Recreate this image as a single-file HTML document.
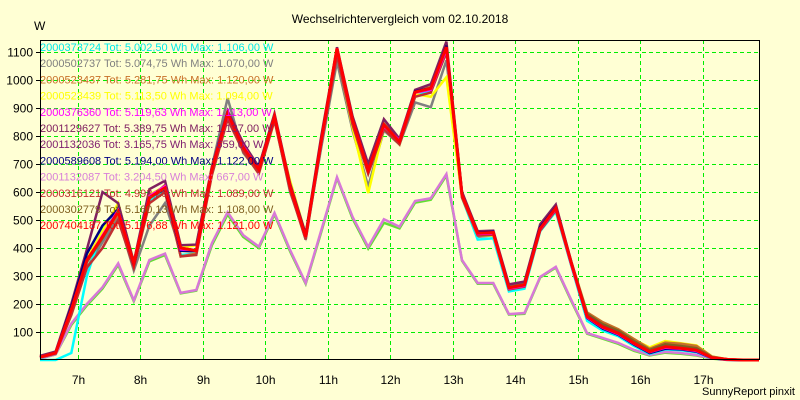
<!DOCTYPE html>
<html><head><meta charset="utf-8">
<style>
html,body{margin:0;padding:0;background:#ffffd4;}
svg{display:block;font-family:"Liberation Sans",Arial,sans-serif;}
</style></head>
<body>
<svg id="chart" width="800" height="400" viewBox="0 0 800 400" xmlns="http://www.w3.org/2000/svg">
<rect x="0" y="0" width="800" height="400" fill="#ffffd4"/>
<text x="400" y="23" text-anchor="middle" font-size="12" fill="#000">Wechselrichtervergleich vom 02.10.2018</text>
<text x="34" y="30" font-size="12" fill="#000">W</text>
<text x="795" y="395" text-anchor="end" font-size="11" fill="#000">SunnyReport pinxit</text>
<g id="grid"></g>
<g id="axes"></g>
<g id="series"></g>
<g id="legend"></g>
<rect x="40.5" y="40.5" width="719" height="319" fill="none" stroke="#000" stroke-width="1"/>
</svg>
<script>
const yTicks = [100,200,300,400,500,600,700,800,900,1000,1100];
const xTickHours = [7,8,9,10,11,12,13,14,15,16,17];
const xTickLabels = ["7h","8h","9h","10h","11h","12h","13h","14h","15h","16h","17h"];
const startHour = 6.4;
const stepHours = 0.25;
const seriesNames = ["2000373724","2000502737","2000523437","2000523439","2000376360","2001129627","2001132036","2000589608","2001132087","2000316121","2000302779","2007404187"];
const legendTexts = [
"2000373724 Tot: 5.002,50 Wh Max: 1.106,00 W",
"2000502737 Tot: 5.074,75 Wh Max: 1.070,00 W",
"2000523437 Tot: 5.281,75 Wh Max: 1.120,00 W",
"2000523439 Tot: 5.113,50 Wh Max: 1.094,00 W",
"2000376360 Tot: 5.119,63 Wh Max: 1.113,00 W",
"2001129627 Tot: 5.389,75 Wh Max: 1.137,00 W",
"2001132036 Tot: 3.165,75 Wh Max: 659,00 W",
"2000589608 Tot: 5.194,00 Wh Max: 1.122,00 W",
"2001132087 Tot: 3.204,50 Wh Max: 667,00 W",
"2000316121 Tot: 4.992,25 Wh Max: 1.089,00 W",
"2000302779 Tot: 5.160,13 Wh Max: 1.108,00 W",
"2007404187 Tot: 5.176,88 Wh Max: 1.121,00 W"];
const legendColors = ["#00e8e8","#808080","#c87028","#ffff00","#ff00ff","#802060","#802070","#000080","#d880d8","#c03030","#806020","#ff0000"];
const lineColors   = ["#00ffff","#808080","#c87028","#ffff00","#ff00ff","#802060","#60e030","#000080","#d878d8","#c03030","#806020","#ff0000"];
const s2000373724 = [0,0,25,300,470,540,330,570,600,375,380,670,870,750,670,860,610,430,770,1106,850,670,830,770,945,960,1100,580,430,435,245,255,460,530,335,140,105,85,50,22,38,35,28,6,1,0,0];
const s2000502737 = [8,22,170,330,420,510,320,480,560,390,385,690,935,740,670,860,600,440,760,1065,820,620,820,770,920,903,1070,600,440,445,262,270,465,535,340,160,120,100,65,32,50,45,38,10,2,0,0];
const s2000523437 = [12,28,175,350,440,520,340,575,625,370,380,680,875,760,690,875,625,445,790,1110,860,690,845,785,960,975,1120,600,455,450,262,275,480,550,350,170,135,110,75,40,62,58,50,12,2,0,0];
const s2000523439 = [10,25,185,360,460,560,350,590,620,400,410,690,880,770,670,860,640,450,790,1094,830,596,830,770,950,940,1010,580,445,445,260,268,470,540,345,165,130,108,72,45,68,60,52,12,2,0,0];
const s2000376360 = [10,25,180,355,445,535,345,585,620,395,392,680,875,765,680,870,620,440,780,1113,855,680,835,785,955,965,1110,590,450,452,255,265,468,540,340,152,115,92,58,28,44,40,32,7,1,0,0];
const s2001129627 = [15,30,200,395,600,560,350,610,640,410,412,690,890,775,690,880,630,450,800,1117,870,700,860,790,965,985,1137,600,460,462,270,280,485,555,350,158,120,97,60,30,46,42,34,8,2,0,0];
const s2001132036 = [5,20,125,195,255,340,210,352,375,238,248,410,520,440,400,520,388,272,458,650,505,398,490,470,562,572,659,355,272,272,162,165,295,330,210,94,76,58,33,16,26,22,16,5,0,0,0];
const s2000589608 = [10,25,190,380,480,540,340,580,610,390,390,680,880,760,680,870,620,445,790,1110,860,680,840,780,960,970,1122,590,455,458,258,268,475,545,345,150,112,90,55,25,40,38,30,6,1,0,0];
const s2001132087 = [5,20,130,200,260,345,213,357,380,240,250,417,528,446,405,525,393,275,464,653,511,404,503,476,568,578,664,357,275,275,164,168,297,333,214,96,79,61,36,18,29,25,18,6,0,0,0];
const s2000316121 = [10,24,160,330,400,500,330,560,600,370,375,660,860,745,665,855,605,430,770,1089,840,665,825,770,940,955,1100,580,445,448,252,262,462,535,338,150,115,92,58,28,44,40,32,7,1,0,0];
const s2000302779 = [10,25,175,350,435,530,345,585,620,400,392,685,885,765,685,872,622,442,788,1108,860,680,842,782,958,972,1115,592,455,458,260,270,472,545,346,165,128,105,68,36,56,50,42,10,2,0,0];
const s2007404187 = [10,25,180,357,440,530,345,580,615,400,390,680,880,760,680,870,620,440,785,1113,857,678,840,780,957,970,1118,590,453,455,258,268,470,543,345,155,118,95,60,30,47,42,35,8,2,0,0];
const allSeries = [s2000373724,s2000502737,s2000523437,s2000523439,s2000376360,s2001129627,s2001132036,s2000589608,s2001132087,s2000316121,s2000302779,s2007404187];
const drawOrder = [6,8,1,0,3,2,10,9,5,7,4,11];

const NS = "http://www.w3.org/2000/svg";
const X0 = 40, X1 = 759, Y0 = 360;
const H0 = 6.4, H1 = 17.9;
function xScale(h){ return X0 + (h - H0) * (X1 - X0) / (H1 - H0); }
function yScale(v){ return Y0 - v * 0.28; }
function mk(tag, attrs){ const e = document.createElementNS(NS, tag); for (const k in attrs) e.setAttribute(k, attrs[k]); return e; }

const grid = document.getElementById('grid');
const axes = document.getElementById('axes');
yTicks.forEach(function(v){
  const y = Math.round(yScale(v)) + 0.5;
  const gl = mk('line', {x1:X0, x2:X1, y1:y, y2:y, stroke:'#00ee00', 'stroke-dasharray':'4,3', 'stroke-width':1});
  
  
  grid.appendChild(gl);
  const tk = mk('line', {x1:36, x2:40, y1:y, y2:y, stroke:'#000', 'stroke-width':1});
  
  
  axes.appendChild(tk);
  const t = mk('text', {x:33, y:y+4, 'text-anchor':'end', 'font-size':12, fill:'#000'});
  t.textContent = String(v);
  
  
  axes.appendChild(t);
});
xTickHours.forEach(function(h, i){
  const x = Math.round(xScale(h)) + 0.5;
  const gl = mk('line', {x1:x, x2:x, y1:40, y2:Y0, stroke:'#00ee00', 'stroke-dasharray':'4,3', 'stroke-width':1});
  
  
  grid.appendChild(gl);
  const t = mk('text', {x:x, y:384, 'text-anchor':'middle', 'font-size':12, fill:'#000'});
  t.textContent = xTickLabels[i];
  
  
  axes.appendChild(t);
});

const sg = document.getElementById('series');
drawOrder.forEach(function(si){
  const vals = allSeries[si];
  const pts = vals.map(function(v, i){ return xScale(startHour + i * stepHours).toFixed(1) + ',' + yScale(v).toFixed(1); }).join(' ');
  const pl = mk('polyline', {points:pts, fill:'none', stroke:lineColors[si], 'stroke-width': si === 11 ? 3 : 2.5, 'stroke-linejoin':'miter'});
  
  
  sg.appendChild(pl);
});

const lg = document.getElementById('legend');
legendTexts.forEach(function(txt, i){
  const t = mk('text', {x:40, y:51 + i * 16.2, 'font-size':11, fill:legendColors[i]});
  t.textContent = txt;
  
  
  lg.appendChild(t);
});
</script>
</body></html>
